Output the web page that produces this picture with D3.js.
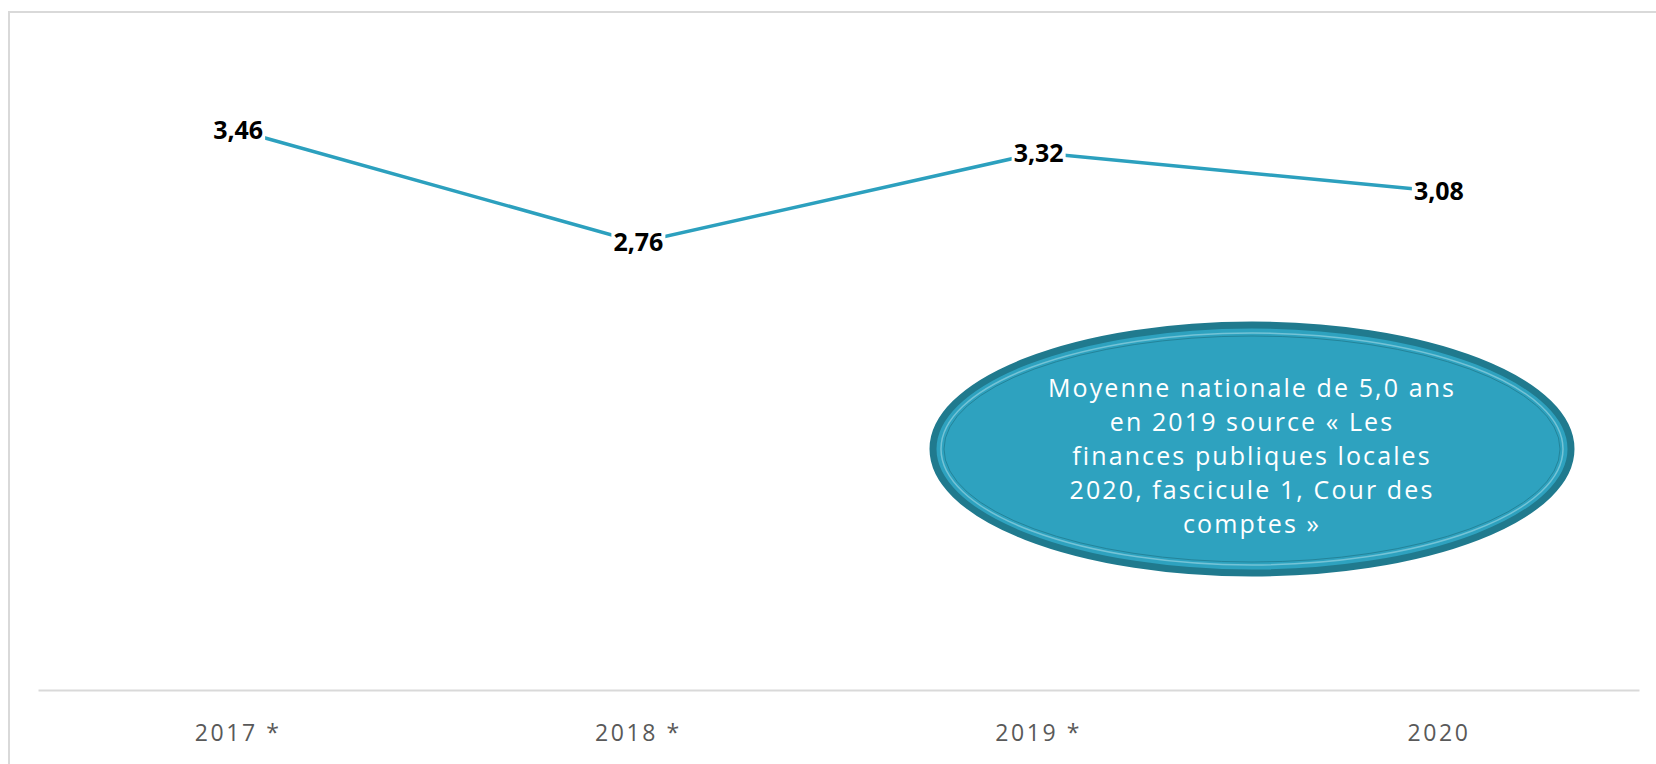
<!DOCTYPE html>
<html>
<head>
<meta charset="utf-8">
<script src="https://cdn.jsdelivr.net/npm/d3@7"></script>
<style>
  body { margin: 0; background: #fff; }
  svg { display: block; }
</style>
</head>
<body>
<svg id="chart" width="1656" height="764"></svg>
<script>
const years = ["2017 *", "2018 *", "2019 *", "2020"];
const values = [3.46, 2.76, 3.32, 3.08];
const labels = ["3,46", "2,76", "3,32", "3,08"];
const noteLines = [
  "Moyenne nationale de 5,0 ans",
  "en 2019 source « Les",
  "finances publiques locales",
  "2020, fascicule 1, Cour des",
  "comptes »"
];

const svg = d3.select("#chart");

// chart frame, runs off right and bottom edges
svg.append("rect")
  .attr("x", 9).attr("y", 12)
  .attr("width", 1700).attr("height", 800)
  .style("fill", "none")
  .style("stroke", "#d9d9d9")
  .style("stroke-width", "2px");

const x = d3.scaleBand().domain(years).range([38, 1639]);
const y = d3.scaleLinear().domain([0, 4]).range([684, 44]);

// category axis
const xAxis = svg.append("g")
  .attr("transform", "translate(0,690)")
  .call(d3.axisBottom(x).tickSize(0).tickPadding(35));
xAxis.select(".domain").style("stroke", "#d9d9d9").style("stroke-width", "2px");
xAxis.selectAll("text")
  .style("font-family", "Open Sans")
  .style("font-size", "23px")
  .style("letter-spacing", "2.6px")
  .style("fill", "#595959");

const line = d3.line()
  .x((d, i) => x(years[i]) + x.bandwidth() / 2)
  .y(d => y(d));

svg.append("path")
  .datum(values)
  .attr("d", line)
  .style("fill", "none")
  .style("stroke", "#2ca0be")
  .style("stroke-width", "3.5px");

// data labels with white backing
const lab = svg.selectAll("g.lab").data(values).enter().append("g").attr("class", "lab")
  .attr("transform", (d, i) => `translate(${x(years[i]) + x.bandwidth() / 2},${y(d)})`);
lab.append("rect")
  .attr("x", -27).attr("y", -11).attr("width", 54).attr("height", 22)
  .style("fill", "#fff");
lab.append("text")
  .text((d, i) => labels[i])
  .attr("text-anchor", "middle")
  .attr("dy", "0.36em")
  .style("font-family", "Open Sans")
  .style("font-weight", "bold")
  .style("font-size", "25px")
  .style("fill", "#000");

// callout ellipse
const note = svg.append("g").attr("transform", "translate(1252,449)");
note.append("ellipse")
  .attr("rx", 319).attr("ry", 124)
  .style("fill", "#2ea2bf")
  .style("stroke", "#207a8e")
  .style("stroke-width", "7px");
note.append("ellipse")
  .attr("rx", 311).attr("ry", 116)
  .style("fill", "none")
  .style("stroke", "#74c3d6")
  .style("stroke-width", "1.5px");
note.append("ellipse")
  .attr("rx", 308).attr("ry", 113)
  .style("fill", "none")
  .style("stroke", "#23849a")
  .style("stroke-width", "1px");

note.selectAll("text.note").data(noteLines).enter().append("text")
  .attr("class", "note")
  .text(d => d)
  .attr("text-anchor", "middle")
  .attr("y", (d, i) => -60 + i * 34 + 8)
  .style("font-family", "Open Sans")
  .style("font-size", "25px")
  .style("letter-spacing", "2.1px")
  .style("fill", "#fff");
</script>
</body>
</html>
